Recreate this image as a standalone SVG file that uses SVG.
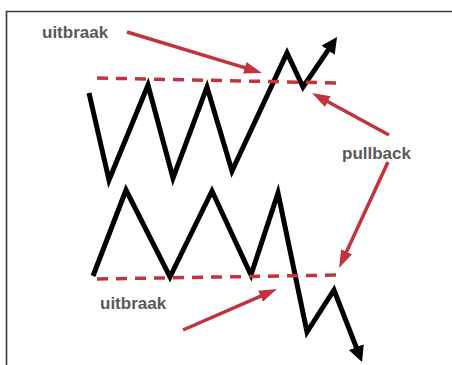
<svg xmlns="http://www.w3.org/2000/svg" width="452" height="365" viewBox="0 0 452 365">
<style>
.frame{fill:none;stroke:#3a3a3a;stroke-width:1.6}
.zig{fill:none;stroke:#000;stroke-width:5;stroke-linejoin:miter;stroke-miterlimit:10}
.dash{fill:none;stroke:#c4323d;stroke-width:3.5;stroke-dasharray:11 8}
.red{fill:none;stroke:#c4323d;stroke-width:3.5}
.lbl{font-family:"Liberation Sans",Arial,sans-serif;font-weight:bold;font-size:17px;fill:#5a5a5a}
</style>
<defs>
<marker id="blk" markerUnits="userSpaceOnUse" markerWidth="20" markerHeight="18" viewBox="0 -9 20 18" refX="4" refY="0" orient="auto">
<path d="M0,-8 L16,0 L0,8 z" fill="#000"/>
</marker>
<marker id="rd" markerUnits="userSpaceOnUse" markerWidth="20" markerHeight="16" viewBox="0 -8 20 16" refX="4" refY="0" orient="auto">
<path d="M0,-6 L18,0 L0,6 z" fill="#c4323d"/>
</marker>
</defs>
<path class="frame" d="M6.5,365 L6.5,11.5 L452,11.5"/>
<g id="top-chart">
<polyline class="zig" points="89,93 109,180 148,85 173,178 207,87 232,171 287,53 303,87 330.3,46.9" marker-end="url(#blk)"/>
</g>
<g id="bottom-chart">
<polyline class="zig" points="93,276 126,190 170,277 212,191 251,275 278,193 307,332 334,290 357.7,350.8" marker-end="url(#blk)"/>
</g>
<g id="resistance">
<line class="dash" x1="97" y1="78" x2="340" y2="83"/>
</g>
<g id="support">
<line class="dash" x1="97" y1="279" x2="340" y2="275"/>
</g>
<g id="label-uitbraak-top"><text class="lbl" x="42" y="38">uitbraak</text></g>
<g id="label-pullback"><text class="lbl" x="342" y="159">pullback</text></g>
<g id="label-uitbraak-bottom"><text class="lbl" x="100" y="309">uitbraak</text></g>
<g id="connectors">
<line class="red" x1="127" y1="32" x2="248.6" y2="68.9" marker-end="url(#rd)"/>
<line class="red" x1="389" y1="135" x2="324.3" y2="99.7" marker-end="url(#rd)"/>
<line class="red" x1="388" y1="162" x2="344.9" y2="255.3" marker-end="url(#rd)"/>
<line class="red" x1="183" y1="330" x2="264.2" y2="294.6" marker-end="url(#rd)"/>
</g>
</svg>
